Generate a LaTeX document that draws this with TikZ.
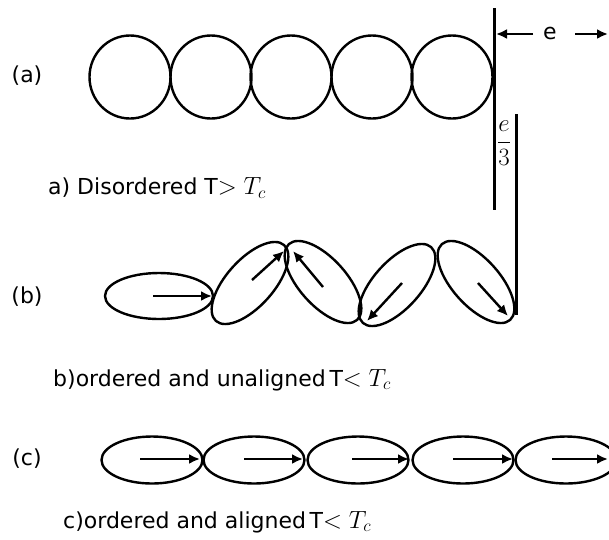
\documentclass[tikz,border=0pt]{standalone}
\usepackage{fontspec}
\setmainfont{DejaVu Sans}
\usetikzlibrary{arrows.meta}
\newcommand{\mybigmath}[1]{{\fontsize{26}{30}\selectfont$#1$}}
\tikzset{
  outl/.style={line width=2.4pt},
  spin/.style={line width=2.4pt,-{Latex[length=11pt,width=10pt]}},
  wall/.style={line width=3pt},
  lbl/.style={font=\fontsize{22}{26}\selectfont, inner sep=0pt},
  capt/.style={font=\fontsize{22}{26}\selectfont, inner sep=0pt, anchor=west},
}
\begin{document}
\begin{tikzpicture}[x=1pt,y=-1pt]
\useasboundingbox (0,0) rectangle (609,539);
\clip (0,0) rectangle (609,539);
% row (a)
\node[lbl] (la) at (27,76) {(a)};
\foreach \cx in {130,211,291,372,452} \draw[outl] (\cx,77) ellipse [x radius=40.5, y radius=41.5];
\node[capt] (ca) at (48,188) {a) Disordered T\mybigmath{>T_c}};
\coordinate (w1t) at (494,8); \coordinate (w1b) at (494,210);
\draw[wall] (w1t) -- (w1b);
\coordinate (w2t) at (516,114); \coordinate (w2b) at (516,315);
\draw[wall] (w2t) -- (w2b);
\node[lbl] (e) at (550,33) {e};
\coordinate (ea) at (533,34); \coordinate (eb) at (496,34);
\coordinate (ec) at (575,34); \coordinate (ed) at (608,34);
\draw[spin] (ea) -- (eb);
\draw[spin] (ec) -- (ed);
\node[inner sep=0pt,font=\fontsize{27}{32}\selectfont] (frac) at (504,143) {$\displaystyle\frac{e}{3}$};
% row (b)
\node[lbl] (lb) at (27,297) {(b)};
\draw[outl] (159,296) ellipse [x radius=54, y radius=23];
\draw[outl, rotate around={48:(250,283)}] (250,283) ellipse [x radius=51, y radius=23.5];
\draw[outl, rotate around={-48:(323,282)}] (323,282) ellipse [x radius=51, y radius=23.5];
\draw[outl, rotate around={48:(397,285)}] (397,285) ellipse [x radius=51, y radius=23.5];
\draw[outl, rotate around={-48:(476,282)}] (476,282) ellipse [x radius=51, y radius=23.5];
\coordinate (b1s) at (153,296); \coordinate (b1e) at (212,296);
\coordinate (b2s) at (252,280); \coordinate (b2e) at (284,251);
\coordinate (b3s) at (323,287); \coordinate (b3e) at (293,251);
\coordinate (b4s) at (402,283); \coordinate (b4e) at (367,321);
\coordinate (b5s) at (478,283); \coordinate (b5e) at (508,316);
\draw[spin] (b1s) -- (b1e);
\draw[spin] (b2s) -- (b2e);
\draw[spin] (b3s) -- (b3e);
\draw[spin] (b4s) -- (b4e);
\draw[spin] (b5s) -- (b5e);
\node[capt] (cb) at (53,380) {b)ordered and unaligned\,T\mybigmath{<T_c}};
% row (c)
\node[lbl] (lc) at (27,459) {(c)};
\foreach \cx/\as/\ae in {152/140/200, 254/244/303, 358/352/409, 463/453/513, 566/552/608} {
  \draw[outl] (\cx,460) ellipse [x radius=50.5, y radius=23.5];
  \draw[spin] (\as,459) -- (\ae,459);
}
\node[capt] (cc) at (63,522) {c)ordered and aligned\,T\mybigmath{<T_c}};
\end{tikzpicture}
\end{document}
